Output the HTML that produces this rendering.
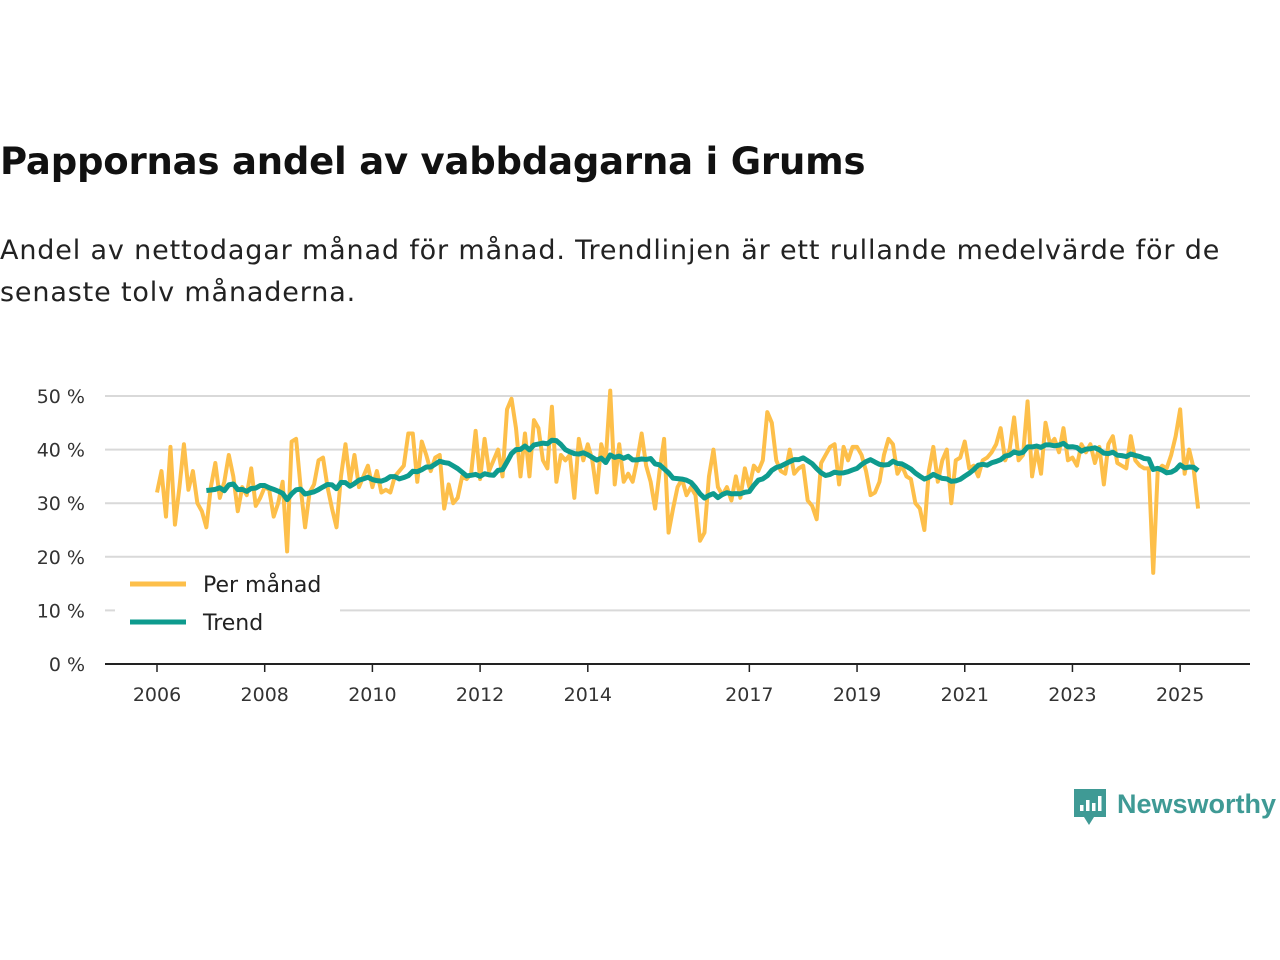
<!DOCTYPE html>
<html><head><meta charset="utf-8">
<style>
body{margin:0;background:#fff;font-family:"DejaVu Sans","Liberation Sans",sans-serif;}
#wrap{position:relative;width:1280px;height:960px;overflow:hidden;}
h1{position:absolute;left:0;top:140px;margin:0;font-size:37px;font-weight:bold;color:#111;letter-spacing:-0.2px;white-space:nowrap;}
p{position:absolute;left:0;top:230px;margin:0;font-size:27px;line-height:42px;color:#222;width:1270px;letter-spacing:0.85px;white-space:nowrap;}
svg{position:absolute;left:0;top:0;font-family:"DejaVu Sans","Liberation Sans",sans-serif;}
</style></head><body>
<div id="wrap">
<h1>Pappornas andel av vabbdagarna i Grums</h1>
<p>Andel av nettodagar månad för månad. Trendlinjen är ett rullande medelvärde för de<br>senaste tolv månaderna.</p>
<svg id="chart" width="1280" height="960"></svg>
</div>
<script>
const startYear = 2006;
const monthly = [
32,36,27.5,40.5,26,33,41,32.5,36,30,28.5,25.5,
33,37.5,31,34,39,35,28.5,33,31.5,36.5,29.5,31,
33,32.5,27.5,30,34,21,41.5,42,33,25.5,32,33.5,
38,38.5,33,29,25.5,35,41,34,39,33,35,37,
33,36,32,32.5,32,35,36,37,43,43,34,41.5,
39,36,38.5,39,29,33.5,30,31,35,34.5,35.5,43.5,
34.5,42,36,38,40,35,47.5,49.5,44,35,43,35,
45.5,44,38,36.5,48,34,39,38,39,31,42,38,
41,38,32,41,38,51,33.5,41,34,35.5,34,38,
43,37,34,29,36,42,24.5,29,33,34.5,31.5,33,
31.5,23,24.5,35,40,33,31.5,33,30.5,35,31,36.5,
33,37,36,38,47,45,38,36,35.5,40,35.5,36.5,
37,30.5,29.5,27,37.5,39,40.5,41,33.5,40.5,38,40.5,
40.5,39,36,31.5,32,34,39,42,41,35.5,37,35,
34.5,30,29,25,36,40.5,34,38,40,30,38,38.5,
41.5,36.5,37,35,38,38.5,39.5,41,44,38,40,46,
38,39,49,35,40,35.5,45,41,42,39.5,44,38,
38.5,37,41,39.5,41,37.5,40.5,33.5,41,42.5,37.5,37,
36.5,42.5,38,37,36.5,36.5,17,36,37,36.5,39,42.5,
47.5,35.5,40,36.5,29];
const yTicks = [0,10,20,30,40,50];
const xTickYears = [2006,2008,2010,2012,2014,2017,2019,2021,2023,2025];

const NS="http://www.w3.org/2000/svg";
const svg=document.getElementById('chart');
const y0=664, pxPer10=53.6, x0=157, pxPerYear=53.85;
const yS=v=>y0-v*pxPer10/10;
const xS=i=>x0+(i/12)*pxPerYear;
function mk(t,a){const e=document.createElementNS(NS,t);for(const k in a)e.setAttribute(k,a[k]);svg.appendChild(e);return e;}

yTicks.forEach(v=>{
  if(v>0){const g=mk('line',{x1:105,x2:1250,y1:yS(v),y2:yS(v),stroke:'#d9d9d9','stroke-width':2});
  
  }
  const t=mk('text',{x:85,y:yS(v)+7,'text-anchor':'end','font-size':19,fill:'#333'});
  t.textContent=v+' %';
  
  
});
const ax=mk('line',{x1:105,x2:1250,y1:y0,y2:y0,stroke:'#222','stroke-width':2});


xTickYears.forEach(yr=>{
  const x=xS((yr-startYear)*12);
  const tk=mk('line',{x1:x,x2:x,y1:y0,y2:y0+8,stroke:'#222','stroke-width':1.5});
  
  
  const t=mk('text',{x:x,y:701,'text-anchor':'middle','font-size':19,fill:'#333'});
  t.textContent=yr;
  
  
});
const trend=[];
for(let i=11;i<monthly.length;i++){let s=0;for(let j=i-11;j<=i;j++)s+=monthly[j];trend.push([i,s/12]);}
const pm=mk('polyline',{points:monthly.map((v,i)=>xS(i)+','+yS(v)).join(' '),fill:'none',stroke:'#fdbf4a','stroke-width':4,'stroke-linejoin':'round'});


const tr=mk('polyline',{points:trend.map(p=>xS(p[0])+','+yS(p[1])).join(' '),fill:'none',stroke:'#0e9b8e','stroke-width':5,'stroke-linejoin':'round'});



const lb=mk('rect',{x:115,y:563,width:225,height:80,fill:'#fff'});


[['Per månad','#fdbf4a',584],['Trend','#0e9b8e',622]].forEach(([n,c,y])=>{
  const l=mk('line',{x1:130,x2:186,y1:y,y2:y,stroke:c,'stroke-width':5});
  
  
  const t=mk('text',{x:203,y:y+8,'font-size':22,fill:'#222'});
  t.textContent=n;
  
  
});
const lg=mk('g',{});


const r=document.createElementNS(NS,'path');
r.setAttribute('d','M1074 789 h32 v28 h-12 l-5 8 l-5 -8 h-10 z');
r.setAttribute('fill','#3f9a95');lg.appendChild(r);
[[1080,805,6],[1086,800,11],[1092,803,8],[1098,796,15]].forEach(b=>{const e=document.createElementNS(NS,'rect');e.setAttribute('x',b[0]);e.setAttribute('y',b[1]);e.setAttribute('width',3.5);e.setAttribute('height',b[2]);e.setAttribute('fill','#fff');lg.appendChild(e);});
const lt=document.createElementNS(NS,'text');
lt.setAttribute('x',1117);lt.setAttribute('y',813);lt.setAttribute('font-size',27);lt.setAttribute('font-weight','bold');lt.setAttribute('fill','#3f9a95');
lt.setAttribute('font-family','Liberation Sans, sans-serif');
lt.textContent='Newsworthy';lg.appendChild(lt);
</script>
</body></html>
